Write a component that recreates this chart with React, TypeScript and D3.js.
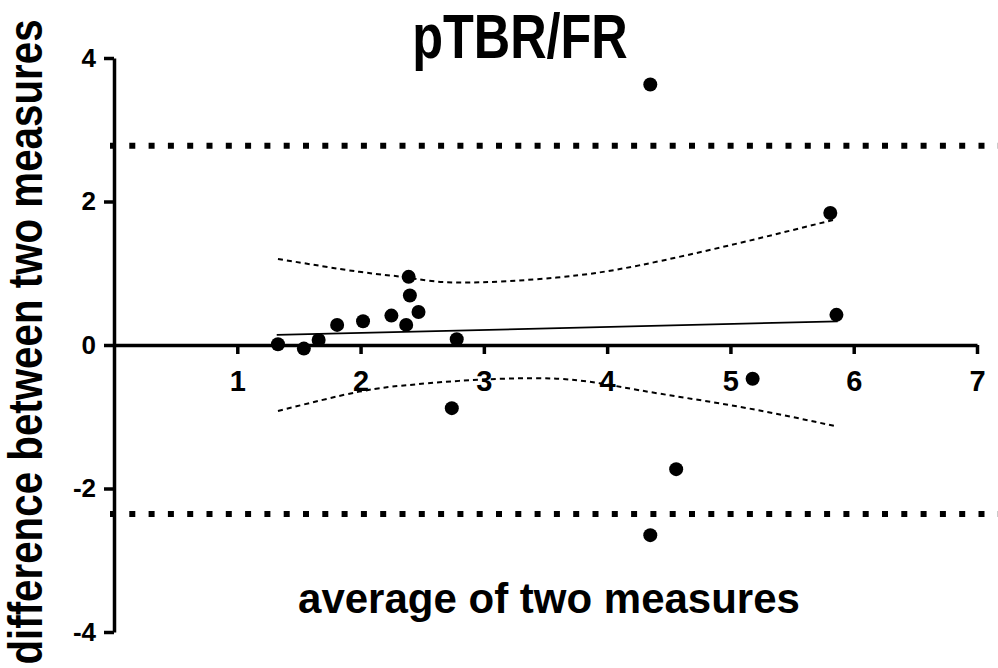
import React, { useEffect, useRef } from 'react';
import * as d3 from 'd3';

// Bland-Altman data
const avgValues = [1.33, 1.54, 1.66, 1.81, 2.02, 2.25, 2.37, 2.39, 2.4, 2.47, 2.78, 2.74, 4.35, 4.35, 4.56, 5.18, 5.81, 5.86];
const diffValues = [0.01, -0.05, 0.07, 0.28, 0.33, 0.41, 0.28, 0.95, 0.69, 0.46, 0.08, -0.88, 3.63, -2.65, -1.73, -0.47, 1.84, 0.42];

// limits of agreement
const upperLimit = 2.777;
const lowerLimit = -2.355;

// regression line and its confidence band
const regX = [1.32, 5.87];
const regY = [0.14, 0.33];
const bandX = [1.33, 1.99, 2.38, 2.8, 3.59, 4.26, 5.07, 5.85];
const bandUpper = [1.2, 1.02, 0.94, 0.87, 0.94, 1.11, 1.42, 1.75];
const bandLower = [-0.92, -0.65, -0.56, -0.5, -0.47, -0.63, -0.86, -1.13];

const xTicks = [1, 2, 3, 4, 5, 6, 7];
const yTicks = [-4, -2, 0, 2, 4];

const title = 'pTBR/FR';
const xLabel = 'average of two measures';
const yLabel = 'difference between two measures';

const FONT = "'Liberation Sans', Arial, Helvetica, sans-serif";

const BlandAltman = () => {
  const ref = useRef<SVGSVGElement | null>(null);

  useEffect(() => {
    if (!ref.current) return;
    const svg = d3.select(ref.current);
    svg.selectAll('*').remove();

    const x = d3.scaleLinear().domain([0, 7]).range([114, 977]);
    const y = d3.scaleLinear().domain([-4, 4]).range([632, 58]);

    // limits of agreement (thick dotted)
    [upperLimit, lowerLimit].forEach((v) => {
      svg.append('line')
        .attr('x1', x(0) - 4)
        .attr('x2', 998)
        .attr('y1', y(v))
        .attr('y2', y(v))
        .attr('stroke', '#000')
        .attr('stroke-width', 6)
        .attr('stroke-dasharray', '6 13.3');
    });

    // x axis
    const xAxis = svg.append('g')
      .attr('transform', `translate(0, ${y(0)})`)
      .call(d3.axisBottom(x).tickValues(xTicks).tickSizeInner(9).tickSizeOuter(0).tickPadding(16).tickFormat((d) => String(d)));

    // y axis
    const yAxis = svg.append('g')
      .attr('transform', `translate(${x(0)}, 0)`)
      .call(d3.axisLeft(y).tickValues(yTicks).tickSizeInner(10).tickSizeOuter(0).tickPadding(8).tickFormat((d) => String(d)));

    [xAxis, yAxis].forEach((g) => {
      g.selectAll('path, line').attr('stroke', '#000').attr('stroke-width', 3.5);
      g.selectAll('text')
        .attr('fill', '#000')
        .style('font-family', FONT)
        .style('font-weight', 'bold');
    });
    xAxis.selectAll('text').style('font-size', '29px');
    yAxis.selectAll('text').style('font-size', '26px');

    // confidence band
    const bandLine = d3.line<[number, number]>()
      .x((d) => x(d[0]))
      .y((d) => y(d[1]))
      .curve(d3.curveNatural);

    [bandUpper, bandLower].forEach((vals) => {
      svg.append('path')
        .datum(bandX.map((bx, i) => [bx, vals[i]] as [number, number]))
        .attr('fill', 'none')
        .attr('stroke', '#000')
        .attr('stroke-width', 2)
        .attr('stroke-dasharray', '5 4')
        .attr('d', bandLine);
    });

    // regression line
    svg.append('path')
      .datum(regX.map((rx, i) => [rx, regY[i]] as [number, number]))
      .attr('fill', 'none')
      .attr('stroke', '#000')
      .attr('stroke-width', 1.8)
      .attr('d', bandLine);

    // points
    svg.selectAll('.dot')
      .data(avgValues)
      .enter()
      .append('circle')
      .attr('class', 'dot')
      .attr('cx', (d) => x(d))
      .attr('cy', (d, i) => y(diffValues[i]))
      .attr('r', 7)
      .attr('fill', '#000');

    // title
    svg.append('text')
      .attr('transform', `translate(520, 58) scale(0.8, 1)`)
      .attr('text-anchor', 'middle')
      .style('font-family', FONT)
      .style('font-weight', 'bold')
      .style('font-size', '63px')
      .text(title);

    // x axis label
    svg.append('text')
      .attr('x', 549)
      .attr('y', 613)
      .attr('text-anchor', 'middle')
      .style('font-family', FONT)
      .style('font-weight', 'bold')
      .style('font-size', '42px')
      .text(xLabel);

    // y axis label
    svg.append('text')
      .attr('transform', `translate(42, 342) rotate(-90) scale(0.84, 1)`)
      .attr('text-anchor', 'middle')
      .style('font-family', FONT)
      .style('font-weight', 'bold')
      .style('font-size', '48px')
      .text(yLabel);
  }, []);

  return <svg ref={ref} width={998} height={668} style={{ display: 'block', background: '#fff' }} />;
};

export default function App() {
  return (
    <div style={{ position: 'absolute', left: 0, top: 0 }}>
      <BlandAltman />
    </div>
  );
}
